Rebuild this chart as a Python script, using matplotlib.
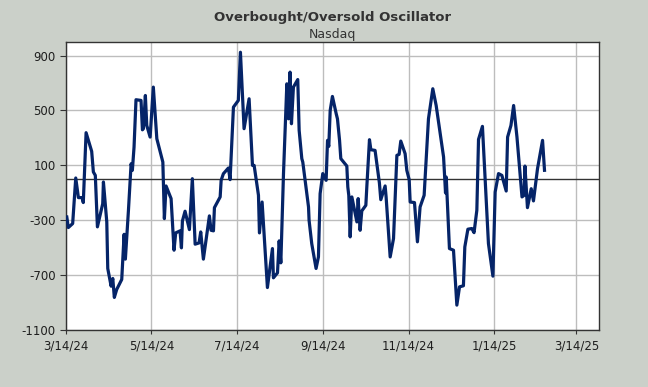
import numpy as np
import pandas as pd
import matplotlib
matplotlib.use('Agg')
import matplotlib.pyplot as plt

start_date = '2024-03-14'

# days after start_date, oscillator value
days = [0.5, 1.6, 4.7, 6.9, 8.8, 11.5, 12.3, 14.3, 18.3, 19.5, 20.9, 22.4, 26.2, 26.7,
        29.1, 29.8, 32.2, 33.4, 34.5, 36.2, 39.8, 40.5, 41.5, 42.4, 44.6, 46.5, 47.4,
        48.6, 50.0, 53.6, 54.6, 55.3, 56.7, 57.7, 60.1, 62.4, 64.9, 69.2, 70.3, 71.5,
        75.1, 77.2, 78.4, 81.5, 82.5, 83.2, 85.1, 88.2, 90.3, 92.3, 95.1, 96.3, 98.2,
        102.5, 103.7, 105.4, 106.1, 110.2, 110.9, 112.5, 116.1, 117.3, 119.7, 123.2,
        124.7, 127.3, 130.9, 133.3, 134.5, 137.6, 138.3, 140.2, 144.0, 147.6, 148.3,
        151.2, 152.4, 153.6, 155.5, 157.9, 159.1, 160.2, 161.2, 162.6, 165.7, 166.7,
        168.6, 169.3, 173.4, 173.8, 175.7, 178.8, 180.5, 181.7, 183.6, 186.0, 187.0,
        187.9, 188.9, 190.5, 193.2, 194.1, 195.6, 196.5, 200.8, 201.5, 202.2, 203.2,
        204.4, 208.0, 208.9, 210.3, 211.5, 214.4, 215.1, 217.0, 218.0, 221.0, 222.3,
        224.1, 225.1, 228.2, 228.9, 230.6, 231.8, 234.2, 236.6, 238.2, 239.4, 242.5,
        243.7, 245.4, 246.1, 249.2, 251.3, 253.2, 256.1, 259.2, 262.3, 264.7, 270.0,
        271.4, 271.9, 274.2, 277.1, 279.5, 281.4, 284.2, 285.2, 287.4, 290.2, 291.8,
        293.8, 295.0, 297.8, 302.1, 305.3, 306.9, 309.3, 311.7, 314.8, 315.8, 318.2,
        320.1, 322.5, 324.3, 326.1, 327.6, 328.2, 330.0, 332.7, 334.3, 337.2, 340.8,
        342.2]
values = [-276, -353, -324, 8, -135, -135, -171, 338, 202, 52, 27, -348, -179, -21,
          -312, -651, -780, -724, -862, -804, -731, -591, -402, -583, -227, 112, 64,
          233, 578, 573, 359, 367, 609, 391, 306, 670, 294, 124, -288, -50,
          -142, -518, -392, -377, -501, -305, -234, -368, 3, -474, -465, -385, -583,
          -268, -373, -377, -208, -130, -9, 39, 81, -4, 524, 573,
          924, 367, 585, 100, 100, -118, -392, -167, -790, -506, -719,
          -683, -450, -610, 40, 694, 439, 779, 403, 670, 725, 355,
          149, 124, -203, -300, -470, -651, -567, -106, 40, -9, 282,
          238, 500, 602, 476, 439, 282, 149, 95, -57, -118, -421,
          -130, -312, -142, -373, -232, -191, -57, 287, 214, 209, 107,
          -28, -150, -50, -130, -385, -567, -433, 173, 180, 277, 185,
          64, -4, -167, -171, -457, -203, -118, 439, 658, 536, 161,
          -101, 15, -506, -518, -918, -785, -777, -494, -365, -360, -390,
          -227, 289, 384, -470, -707, -94, 40, 27, -87, 306, 391,
          536, 306, 88, -130, -118, 95, -208, -70, -159, 76, 282,
          64]

x_ticks = ['2024-03-14', '2024-05-14', '2024-07-14', '2024-09-14', '2024-11-14',
           '2025-01-14', '2025-03-14']
x_labels = ['3/14/24', '5/14/24', '7/14/24', '9/14/24', '11/14/24', '1/14/25', '3/14/25']
y_ticks = [-1100, -700, -300, 100, 500, 900]

bg = '#cbd0c9'
line_color = '#052468'
text_color = '#1e1e1e'


def plot_chart(ax):
    dates = pd.Timestamp(start_date) + pd.to_timedelta(np.array(days), unit='D')
    ax.plot(dates, values, color=line_color, linewidth=2.3, solid_joinstyle='round', zorder=3)
    ax.axhline(0, color='#333333', linewidth=1.0, zorder=2)

    ax.set_xlim(pd.Timestamp(start_date), pd.Timestamp(start_date) + pd.Timedelta(days=381))
    ax.set_ylim(-1100, 1000)
    ax.set_xticks(pd.to_datetime(x_ticks))
    ax.set_xticklabels(x_labels)
    ax.set_yticks(y_ticks)
    ax.set_yticklabels([str(v) for v in y_ticks])

    ax.grid(True, color='#bdbdbd', linewidth=1.0, zorder=1)
    ax.set_axisbelow(True)
    ax.tick_params(axis='both', labelsize=8.5, colors='#333333', labelcolor=text_color,
                   length=4, width=0.8, direction='out')
    ax.tick_params(axis='x', length=3)
    for s in ax.spines.values():
        s.set_color('#333333')
        s.set_linewidth(1.0)


def assemble():
    fig = plt.figure(figsize=(6.48, 3.87), dpi=100, facecolor=bg)
    ax = fig.add_axes([0.102, 0.147, 0.822, 0.745])
    ax.set_facecolor('white')
    plot_chart(ax)
    cx = 0.102 + 0.822 / 2
    fig.text(cx, 0.955, 'Overbought/Oversold Oscillator', ha='center', va='center',
             fontsize=9.5, fontweight='bold', color='#333333')
    fig.text(cx, 0.91, 'Nasdaq', ha='center', va='center', fontsize=9, color='#333333')
    fig.savefig('out.png', dpi=100, facecolor=bg)


if __name__ == '__main__':
    assemble()
